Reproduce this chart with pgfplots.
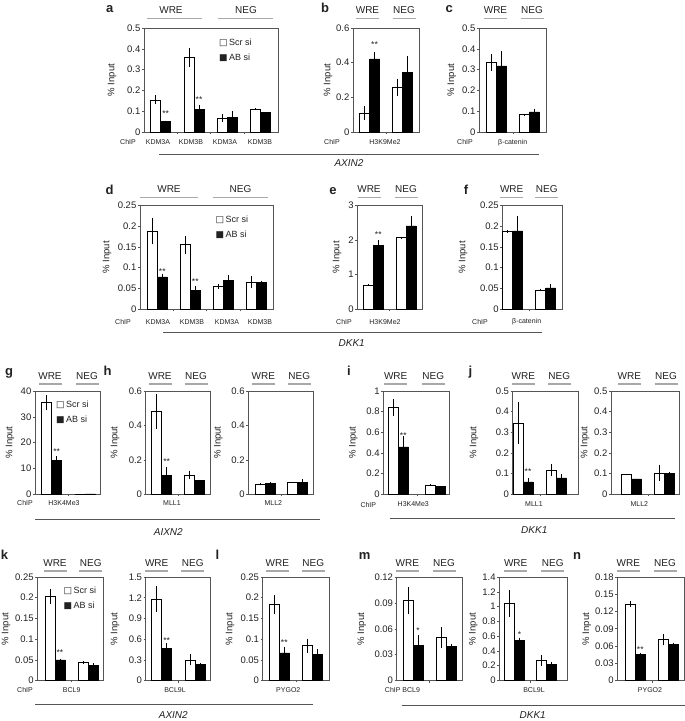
\documentclass[border=0pt]{standalone}
\usepackage{fontspec}
\setmainfont{Liberation Sans}
\newfontfamily\sym{DejaVu Sans}
\usepackage{pgfplots}
\pgfplotsset{compat=1.18}
\definecolor{frame}{HTML}{555555}
\definecolor{hdr}{HTML}{A8A8A8}
\definecolor{txt}{HTML}{222222}
\pgfplotsset{
  pnl/.style={scale only axis, anchor=south west, xmin=0, ymin=0, clip=false,
    axis line style={draw=frame, line width=0.6pt},
    tick align=outside, major tick length=2pt,
    tick style={draw=frame, line width=0.5pt},
    xticklabels={}, ytick pos=left, xtick pos=bottom,
    yticklabel style={font=\fontsize{9.5}{10}\selectfont, text=txt, /pgf/number format/fixed, /pgf/number format/precision=3, /pgf/number format/assume math mode=true, inner sep=1.5pt},
    scaled y ticks=false},
  wb/.style={ybar, bar width=10, bar shift=0pt, fill=white, draw=black, line width=0.5pt,
    error bars/.cd, y dir=both, y explicit, error mark=none, error bar style={line width=0.6pt, black}},
  bb/.style={ybar, bar width=10, bar shift=0pt, fill=black, draw=black, line width=0.5pt,
    error bars/.cd, y dir=both, y explicit, error mark=none, error bar style={line width=0.6pt, black}},
}
\tikzset{star/.style={font=\fontsize{8.5}{8.5}\selectfont, anchor=north, inner sep=0pt, text=txt}}
\newcommand\tx[4][]{\node[inner sep=0pt, text=txt, #1] at ({#2},{721-(#3)}) {#4};}
\newcommand\hl[3]{\draw[hdr, line width=1.3pt] ({#1},{721-(#3)}) -- ({#2},{721-(#3)});}
\newcommand\gl[3]{\draw[frame, line width=0.6pt] ({#1},{721-(#3)}) -- ({#2},{721-(#3)});}
\newcommand\fL{\fontsize{13}{14}\selectfont\bfseries}
\newcommand\fH{\fontsize{10}{11}\selectfont}
\newcommand\fC{\fontsize{7}{8}\selectfont}
\newcommand\fY{\fontsize{9.5}{10}\selectfont}
\newcommand\fG{\fontsize{10}{11}\selectfont\itshape}
\newcommand\fLg{\fontsize{9}{10}\selectfont}
\newcommand\wre[3]{\tx[font=\fH]{#1}{#3}{WRE}\hl{#1-11.5}{#1+11.5}{#3+8.3}\tx[font=\fH]{#2}{#3}{NEG}\hl{#2-11.5}{#2+11.5}{#3+8.3}}
\newcommand\pin[2]{\tx[rotate=90, font=\fY]{#1}{#2}{\% Input}}
\begin{document}
\begin{tikzpicture}[x=1pt, y=1pt]
\path[use as bounding box, fill=white] (0,0) rectangle (685,721);

% ---------------- Row 1: a b c ----------------
\begin{axis}[pnl, at={(144pt,589pt)}, width=134pt, height=104pt, xmax=134, ymax=0.5,
  ytick={0,0.1,0.2,0.3,0.4,0.5}, xtick={33.3,66.7,100}]
\addplot[wb] coordinates {(11.7,0.155) +- (0,0.022) (45,0.36) +- (0,0.046) (78.3,0.068) +- (0,0.018) (111.7,0.111) +- (0,0.003)};
\addplot[bb] coordinates {(21.7,0.05) +- (0,0.005) (55,0.107) +- (0,0.025) (88.3,0.07) +- (0,0.03) (121.7,0.093) +- (0,0.005)};
\node[star] at (axis cs:21.7,0.102) {**};
\node[star] at (axis cs:55,0.170) {**};
\end{axis}
\begin{axis}[pnl, at={(353pt,589pt)}, width=66pt, height=104pt, xmax=66, ymax=0.6,
  ytick={0,0.2,0.4,0.6}, xtick={33}]
\addplot[wb] coordinates {(11.5,0.11) +- (0,0.04) (44.5,0.257) +- (0,0.05)};
\addplot[bb] coordinates {(21.5,0.422) +- (0,0.04) (54.5,0.346) +- (0,0.09)};
\node[star] at (axis cs:21.5,0.521) {**};
\end{axis}
\begin{axis}[pnl, at={(479pt,589pt)}, width=67pt, height=104pt, xmax=67, ymax=0.5,
  ytick={0,0.1,0.2,0.3,0.4,0.5}, xtick={33.8}]
\addplot[wb] coordinates {(12.3,0.335) +- (0,0.04) (45.3,0.084) +- (0,0.002)};
\addplot[bb] coordinates {(22.3,0.318) +- (0,0.07) (55.3,0.097) +- (0,0.015)};
\end{axis}
\tx[font=\fL, anchor=base]{109.7}{12.3}{a}
\tx[font=\fL, anchor=base]{325}{12.3}{b}
\tx[font=\fL, anchor=base]{449.3}{12.3}{c}
\tx[font=\fH]{171}{10}{WRE}\hl{147}{202}{18.3}
\tx[font=\fH]{246}{10}{NEG}\hl{218}{273}{18.3}
\wre{367.5}{404}{10}
\wre{495.5}{532}{10}
\pin{112}{80}\pin{328}{80}\pin{451.7}{80}
\tx[anchor=west, font=\fLg]{219}{43}{{\sym □}\,Scr si}
\tx[anchor=west, font=\fLg]{219}{58}{{\sym ■}\,AB si}
\tx[font=\fC]{128}{142.3}{ChIP}
\tx[font=\fC]{158}{142.3}{KDM3A}
\tx[font=\fC]{191}{142.3}{KDM3B}
\tx[font=\fC]{225}{142.3}{KDM3A}
\tx[font=\fC]{260}{142.3}{KDM3B}
\tx[font=\fC]{332}{142.3}{ChIP}
\tx[font=\fC]{385}{142.3}{H3K9Me2}
\tx[font=\fC]{465}{142.3}{ChIP}
\tx[font=\fC]{512.7}{142.3}{β-catenin}
\gl{159}{539}{154}
\tx[font=\fG]{349}{163.5}{AXIN2}

% ---------------- Row 2: d e f ----------------
\begin{axis}[pnl, at={(140pt,411.5pt)}, width=133.3pt, height=104.5pt, xmax=133.3, ymax=0.25,
  ytick={0,0.05,0.1,0.15,0.2,0.25}, xtick={33.3,66.7,100}]
\addplot[wb] coordinates {(12.3,0.188) +- (0,0.032) (45.3,0.155) +- (0,0.022) (78.5,0.055) +- (0,0.005) (111.5,0.066) +- (0,0.015)};
\addplot[bb] coordinates {(22.3,0.078) +- (0,0.006) (55.3,0.046) +- (0,0.011) (88.5,0.069) +- (0,0.014) (121.5,0.065) +- (0,0.003)};
\node[star] at (axis cs:22.3,0.0986) {**};
\node[star] at (axis cs:55.3,0.0746) {**};
\end{axis}
\begin{axis}[pnl, at={(357.3pt,411.5pt)}, width=65.4pt, height=104.5pt, xmax=65.4, ymax=3,
  ytick={0,1,2,3}, xtick={32.4}]
\addplot[wb] coordinates {(11,0.70) +- (0,0.02) (43.7,2.06) +- (0,0.02)};
\addplot[bb] coordinates {(21,1.84) +- (0,0.15) (53.7,2.40) +- (0,0.29)};
\node[star] at (axis cs:21,2.23) {**};
\end{axis}
\begin{axis}[pnl, at={(502.3pt,411.5pt)}, width=60pt, height=104.5pt, xmax=60, ymax=0.25,
  ytick={0,0.05,0.1,0.15,0.2,0.25}, xtick={26.9}]
\addplot[wb] coordinates {(5.3,0.186) +- (0,0.003) (38.4,0.047) +- (0,0.003)};
\addplot[bb] coordinates {(15.3,0.188) +- (0,0.035) (48.4,0.052) +- (0,0.01)};
\end{axis}
\tx[font=\fL, anchor=base]{109.7}{194.5}{d}
\tx[font=\fL, anchor=base]{333}{194.5}{e}
\tx[font=\fL, anchor=base]{466}{194.5}{f}
\tx[font=\fH]{169}{189}{WRE}\hl{140}{198}{197.3}
\tx[font=\fH]{240.5}{189}{NEG}\hl{213}{268}{197.3}
\wre{369}{406}{189}
\wre{511.7}{546.7}{189}
\pin{107}{257.3}\pin{337}{257.3}\pin{463}{257.3}
\tx[anchor=west, font=\fLg]{215.5}{220}{{\sym □}\,Scr si}
\tx[anchor=west, font=\fLg]{215.5}{235}{{\sym ■}\,AB si}
\tx[font=\fC]{123}{321.7}{ChIP}
\tx[font=\fC]{158}{321.7}{KDM3A}
\tx[font=\fC]{192}{321.7}{KDM3B}
\tx[font=\fC]{227}{321.7}{KDM3A}
\tx[font=\fC]{260}{321.7}{KDM3B}
\tx[font=\fC]{344}{321.7}{ChIP}
\tx[font=\fC]{385}{321.7}{H3K9Me2}
\tx[font=\fC]{480}{321.7}{ChIP}
\tx[font=\fC]{526.7}{321.7}{β-catenin}
\gl{163}{541.7}{332.7}
\tx[font=\fG]{351.7}{343.5}{DKK1}

% ---------------- Row 3: g h i j ----------------
\begin{axis}[pnl, at={(35pt,226.7pt)}, width=65.7pt, height=103.3pt, xmax=65.7, ymax=40,
  ytick={0,10,20,30,40}, xtick={33.4}]
\addplot[wb] coordinates {(11.7,35.5) +- (0,3) (45,0.2) +- (0,0)};
\addplot[bb] coordinates {(21.7,13.2) +- (0,1.5) (55,0.15) +- (0,0)};
\node[star] at (axis cs:21.7,17.8) {**};
\end{axis}
\begin{axis}[pnl, at={(145.7pt,226.7pt)}, width=64.3pt, height=103.3pt, xmax=64.3, ymax=0.6,
  ytick={0,0.2,0.4,0.6}, xtick={32.5}]
\addplot[wb] coordinates {(11,0.48) +- (0,0.1) (44,0.113) +- (0,0.025)};
\addplot[bb] coordinates {(21,0.11) +- (0,0.05) (54,0.08) +- (0,0.005)};
\node[star] at (axis cs:21,0.209) {**};
\end{axis}
\begin{axis}[pnl, at={(248.3pt,226.7pt)}, width=65pt, height=103.3pt, xmax=65, ymax=0.6,
  ytick={0,0.2,0.4,0.6}, xtick={32.9}]
\addplot[wb] coordinates {(11.7,0.058) +- (0,0.005) (44,0.07) +- (0,0.003)};
\addplot[bb] coordinates {(21.7,0.064) +- (0,0.006) (54,0.068) +- (0,0.02)};
\end{axis}
\begin{axis}[pnl, at={(383.3pt,226.7pt)}, width=66pt, height=103.3pt, xmax=66, ymax=1,
  ytick={0,0.2,0.4,0.6,0.8,1}, xtick={34}]
\addplot[wb] coordinates {(10,0.84) +- (0,0.08) (47,0.09) +- (0,0.005)};
\addplot[bb] coordinates {(20,0.46) +- (0,0.1) (57,0.074) +- (0,0.003)};
\node[star] at (axis cs:20,0.6) {**};
\end{axis}
\begin{axis}[pnl, at={(512.7pt,226.7pt)}, width=65.6pt, height=103.3pt, xmax=65.6, ymax=0.5,
  ytick={0,0.1,0.2,0.3,0.4,0.5}, xtick={27.2}]
\addplot[wb] coordinates {(5.3,0.345) +- (0,0.1) (39,0.117) +- (0,0.03)};
\addplot[bb] coordinates {(15.3,0.06) +- (0,0.02) (49,0.08) +- (0,0.02)};
\node[star] at (axis cs:15.3,0.126) {**};
\end{axis}
\begin{axis}[pnl, at={(611pt,226.7pt)}, width=68.3pt, height=103.3pt, xmax=68.3, ymax=0.5,
  ytick={0,0.1,0.2,0.3,0.4,0.5}, xtick={36.8}]
\addplot[wb] coordinates {(15.3,0.096) +- (0,0.003) (48.3,0.104) +- (0,0.04)};
\addplot[bb] coordinates {(25.3,0.075) +- (0,0.001) (58.3,0.1) +- (0,0.008)};
\end{axis}
\tx[font=\fL, anchor=base]{9}{376}{g}
\tx[font=\fL, anchor=base]{107.5}{376}{h}
\tx[font=\fL, anchor=base]{349}{376}{i}
\tx[font=\fL, anchor=base]{470.5}{376}{j}
\wre{50}{87}{375.8}
\wre{160}{196}{375.8}
\wre{263.3}{299.3}{375.8}
\wre{395.7}{433.3}{375.8}
\wre{523.3}{559.3}{375.8}
\wre{629.3}{666}{375.8}
\pin{10}{442.6}\pin{115}{442.6}\pin{218.3}{442.6}\pin{353.3}{442.6}\pin{474}{442.6}\pin{585}{442.6}
\tx[anchor=west, font=\fLg]{56}{405}{{\sym □}\,Scr si}
\tx[anchor=west, font=\fLg]{56}{420}{{\sym ■}\,AB si}
\tx[font=\fC]{25}{503.5}{ChIP}
\tx[font=\fC]{64}{503.5}{H3K4Me3}
\tx[font=\fC]{172}{503.5}{MLL1}
\tx[font=\fC]{273.3}{503.5}{MLL2}
\tx[font=\fC]{368.3}{504.5}{ChIP}
\tx[font=\fC]{413.3}{504.5}{H3K4Me3}
\tx[font=\fC]{534}{504.5}{MLL1}
\tx[font=\fC]{639.3}{504.5}{MLL2}
\gl{35}{320}{519.3}
\tx[font=\fG]{168.3}{531.7}{AIXN2}
\gl{390}{675}{518.3}
\tx[font=\fG]{534.3}{530.5}{DKK1}

% ---------------- Row 4: k l m n ----------------
\begin{axis}[pnl, at={(37.3pt,40.5pt)}, width=66pt, height=103.5pt, xmax=66, ymax=0.25,
  ytick={0,0.05,0.1,0.15,0.2,0.25}, xtick={34.4}]
\addplot[wb] coordinates {(12.7,0.203) +- (0,0.018) (46,0.044) +- (0,0.003)};
\addplot[bb] coordinates {(22.7,0.05) +- (0,0.002) (56,0.037) +- (0,0.005)};
\node[star] at (axis cs:22.7,0.074) {**};
\end{axis}
\begin{axis}[pnl, at={(145.7pt,40.5pt)}, width=65pt, height=103.5pt, xmax=65, ymax=1.5,
  ytick={0,0.3,0.6,0.9,1.2,1.5}, xtick={32.7}]
\addplot[wb] coordinates {(11,1.18) +- (0,0.19) (44.3,0.30) +- (0,0.08)};
\addplot[bb] coordinates {(21,0.47) +- (0,0.07) (54.3,0.234) +- (0,0.02)};
\node[star] at (axis cs:21,0.62) {**};
\end{axis}
\begin{axis}[pnl, at={(262.7pt,40.5pt)}, width=66.6pt, height=103.5pt, xmax=66.6, ymax=0.25,
  ytick={0,0.05,0.1,0.15,0.2,0.25}, xtick={33.3}]
\addplot[wb] coordinates {(11.6,0.184) +- (0,0.023) (45,0.084) +- (0,0.017)};
\addplot[bb] coordinates {(21.6,0.067) +- (0,0.014) (55,0.0625) +- (0,0.013)};
\node[star] at (axis cs:21.6,0.098) {**};
\end{axis}
\begin{axis}[pnl, at={(396.7pt,40.5pt)}, width=66pt, height=103.5pt, xmax=66, ymax=0.12,
  ytick={0,0.03,0.06,0.09,0.12}, xtick={32.8}]
\addplot[wb] coordinates {(11.3,0.0926) +- (0,0.016) (44.3,0.05) +- (0,0.012)};
\addplot[bb] coordinates {(21.3,0.041) +- (0,0.012) (54.3,0.04) +- (0,0.002)};
\node[star] at (axis cs:21.3,0.0617) {*};
\end{axis}
\begin{axis}[pnl, at={(499.3pt,40.5pt)}, width=68pt, height=103.5pt, xmax=68, ymax=1.4,
  ytick={0,0.2,0.4,0.6,0.8,1,1.2,1.4}, xtick={31.4}]
\addplot[wb] coordinates {(10.3,1.04) +- (0,0.18) (42.4,0.27) +- (0,0.07)};
\addplot[bb] coordinates {(20.3,0.54) +- (0,0.04) (52.4,0.216) +- (0,0.04)};
\node[star] at (axis cs:20.3,0.66) {*};
\end{axis}
\begin{axis}[pnl, at={(617.3pt,40.5pt)}, width=67.2pt, height=103.5pt, xmax=67.2, ymax=0.18,
  ytick={0,0.03,0.06,0.09,0.12,0.15,0.18}, xtick={34.7}]
\addplot[wb] coordinates {(13,0.133) +- (0,0.006) (46.4,0.071) +- (0,0.01)};
\addplot[bb] coordinates {(23,0.045) +- (0,0.002) (56.4,0.063) +- (0,0.003)};
\node[star] at (axis cs:23,0.0588) {**};
\end{axis}
\tx[font=\fL, anchor=base]{4.5}{560}{k}
\tx[font=\fL, anchor=base]{217.5}{560}{l}
\tx[font=\fL, anchor=base]{364.7}{560}{m}
\tx[font=\fL, anchor=base]{577}{560}{n}
\wre{55}{90.7}{562.7}
\wre{156.7}{192.7}{562.7}
\wre{277.3}{313.3}{562.7}
\wre{407.3}{444}{562.7}
\wre{515.7}{552.7}{562.7}
\wre{628.3}{665}{562.7}
\pin{6}{629}\pin{115}{629}\pin{230}{629}\pin{361.7}{629}\pin{473.3}{629}\pin{586.7}{629}
\tx[anchor=west, font=\fLg]{63.5}{590.7}{{\sym □}\,Scr si}
\tx[anchor=west, font=\fLg]{63.5}{605.5}{{\sym ■}\,AB si}
\tx[font=\fC]{25}{690}{ChIP}
\tx[font=\fC]{71.7}{690}{BCL9}
\tx[font=\fC]{175}{690}{BCL9L}
\tx[font=\fC]{288.3}{690}{PYGO2}
\tx[font=\fC]{402.5}{690}{ChIP BCL9}
\tx[font=\fC]{534}{690}{BCL9L}
\tx[font=\fC]{650}{690}{PYGO2}
\gl{35}{313.3}{704.3}
\tx[font=\fG]{173.3}{715}{AXIN2}
\gl{401.7}{685}{705}
\tx[font=\fG]{532.7}{715}{DKK1}
\end{tikzpicture}
\end{document}
